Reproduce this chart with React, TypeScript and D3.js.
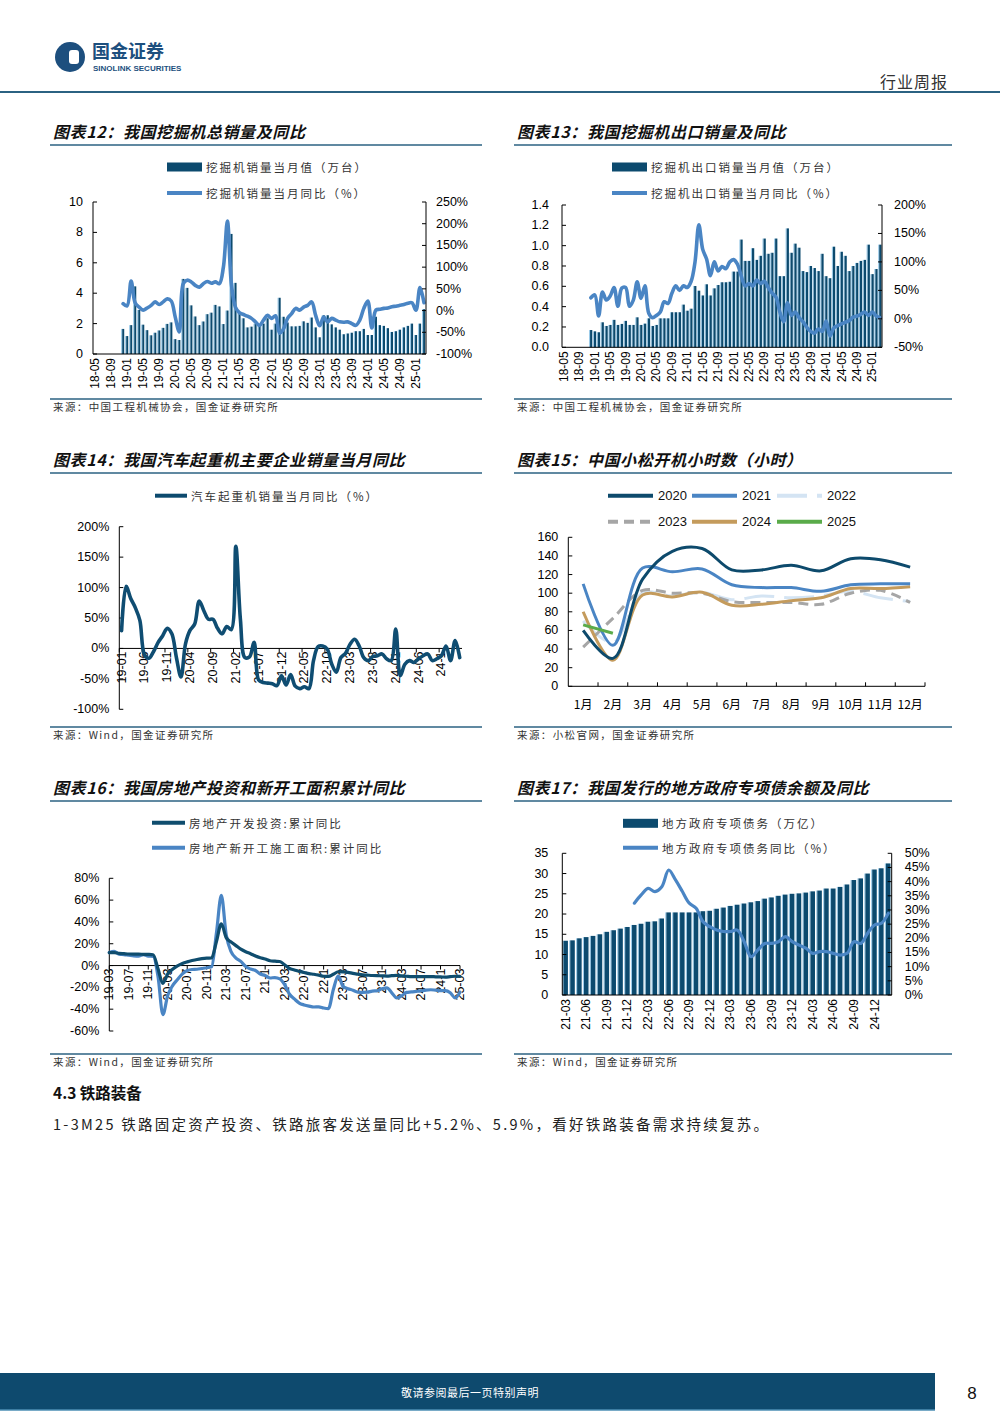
import * as d3 from "d3";
import React from "react";

const CJK = '"Noto Sans CJK SC", sans-serif';
const NUM = '"Liberation Sans", Arial, sans-serif';
const NAVY = "#0c4a6e";
const BLUE = "#4a85c4";
const LIGHTBAR = "#9ccbe9";
const RULE = "#2b6282";

// month labels like "18-05"
function monthSeq(yy: number, mm: number, n: number) {
  const out: string[] = [];
  for (let k = 0; k < n; k++) {
    const t = yy * 12 + (mm - 1) + k;
    const y = Math.floor(t / 12);
    const m = (t % 12) + 1;
    out.push(`${String(y).padStart(2, "0")}-${String(m).padStart(2, "0")}`);
  }
  return out;
}

// ---------- 图表12 挖掘机总销量 ----------
const cats12 = monthSeq(18, 5, 83);
const excavSales: (number | null)[] = [
  null, null, null, null, null, null, null,
  1.65, 1.18, 1.9, 4.45, 2.9, 1.93, 1.57, 1.23, 1.4, 1.55, 1.72, 1.98, 2.08,
  0.98, 0.92, 4.94, 4.35, 3.2, 2.47, 1.9, 2.14, 2.62, 2.72, 3.23, 3.13,
  1.97, 2.86, 7.9, 4.68, 2.75, 2.35, 1.75, 1.8, 2.0, 1.9, 2.0, 2.35,
  1.6, 2.0, 3.7, 2.45, 2.07, 1.82, 1.82, 1.85, 2.15, 2.05, 2.4, 1.75,
  1.1, 2.55, 2.55, 1.95, 1.75, 1.6, 1.3, 1.35, 1.4, 1.5, 1.5, 1.65,
  1.25, 1.25, 2.45, 1.9, 1.85, 1.7, 1.45, 1.5, 1.6, 1.75, 1.85, 2.0,
  1.25, 2.0, 2.95,
];
const excavYoY: (number | null)[] = [
  null, null, null, null, null, null, null,
  16, 11, 68, 18, 8, 1, 6, 12, 20, 14, 20, 27, 22,
  -15, -49, 62, 70, 66, 58, 54, 62, 67, 63, 66, 62,
  100, 206, 60, 8, -5, -9, -13, -18, -26, -34, -22, -11,
  -18, -12, -52, -42, -18, -7, 5, 1, 8, 12, 20, -11,
  -35, -15, -26, -18, -22, -26, -27, -26, -30, -34, -22, 5,
  22, -40, 1, 3, 5, 6, 9, 10, 12, 14, 17, 18,
  1, 53, 18,
];

// ---------- 图表13 挖掘机出口 ----------
const exportSales: (number | null)[] = [
  null, null, null, null, null, null, null,
  0.17, 0.157, 0.148, 0.246, 0.21, 0.22, 0.27, 0.22, 0.23, 0.26, 0.22, 0.22, 0.295,
  0.22, 0.233, 0.285, 0.21, 0.22, 0.285, 0.285, 0.285, 0.345, 0.345, 0.345, 0.42,
  0.36, 0.38, 0.603, 0.557, 0.51, 0.62, 0.51, 0.58, 0.613, 0.64, 0.64, 0.645,
  0.745, 0.745, 1.06, 0.85, 0.85, 0.975, 0.86, 0.9, 1.07, 0.92, 0.93, 1.07,
  0.7, 0.7, 1.17, 0.93, 1.02, 0.98, 0.75, 0.74, 0.8, 0.78, 0.75, 0.92,
  0.7, 0.68, 0.99, 0.8, 0.94, 0.9, 0.75, 0.8, 0.83, 0.85, 0.86, 1.01,
  0.72, 0.77, 1.01,
];
const exportYoY: (number | null)[] = [
  null, null, null, null, null, null, null,
  37, 42, 5, 47, 33, 40, 55, 22, 54, 55, 22, 33, 65,
  36, 58, 10, 2, 6, 12, 30, 27, 45, 58, 50, 58,
  55, 66, 100, 165, 122, 105, 76, 100, 84, 92, 88, 100,
  104, 96, 75, 58, 62, 58, 68, 62, 66, 55, 45, 38,
  12, -5, 28, 6, 12, 2, -5, -15, -22, -25, -18, -22,
  -4, -30, -16, -12, -9, -6, -3, 3, 5, 8, 12, 6,
  12, 5, 2,
];

// ---------- 图表14 汽车起重机 ----------
const cats14 = monthSeq(19, 1, 75);
const craneYoY = [
  29, 102, 82, 67, 46, -10, -16, -5, 10, 21, 33, 24,
  -15, -47, 8, 30, 40, 78, 62, 48, 48, 33, 24, 36,
  31, 168, 48, -15, -14, 10, -52, -56, -57, -58, -61, -45,
  -60, -43, -62, -66, -63, -66, -20, 3, 4, -1, -26, -39,
  -15, -8, 7, 15, 4, -15, -20, -13, -12, -9, -17, -20,
  32, -45, -26, -20, -23, -17, -12, -9, -20, -17, -12, 4,
  -20, 13, -15,
];
const craneTicks = ["19-01", "19-06", "19-11", "20-04", "20-09", "21-02", "21-07", "21-12",
  "22-05", "22-10", "23-03", "23-08", "24-01", "24-06", "24-1"];

// ---------- 图表15 小松开机小时数 ----------
const monthsCN = ["1月", "2月", "3月", "4月", "5月", "6月", "7月", "8月", "9月", "10月", "11月", "12月"];
const hrs2020 = [60, 30, 115, 145, 148, 125, 125, 130, 124, 137, 136, 128];
const hrs2021 = [110, 44, 127, 123, 126, 109, 106, 106, 102, 109, 110, 110];
const hrs2022 = [70, 47, 100, 97, 101, 93, 97, 95, 97, 102, 95, 91];
const hrs2023 = [42, 73, 103, 100, 100, 91, 90, 90, 88, 100, 103, 90];
const hrs2024 = [80, 28, 98, 96, 101, 87, 88, 92, 95, 105, 105, 107];
const hrs2025 = [66, 57];

// ---------- 图表16 房地产 ----------
const cats16 = monthSeq(19, 3, 73);
const reInvest = [
  11.8, 11.9, 11.2, 10.9, 10.6, 10.5, 10.5, 10.3, 10.2, 9.9,
  -3, -16.3, -7.7, -3.3, -0.3, 1.9, 3.4, 4.6, 5.6, 6.3, 6.8, 7.0,
  22, 38.3, 25.6, 21.6, 18.3, 15.0, 12.7, 10.9, 8.8, 7.2, 6.0, 4.4,
  4.0, 3.7, 0.7, -2.7, -4.0, -5.4, -6.4, -7.4, -8.0, -8.8, -9.8, -10.0,
  -8, -5.7, -5.8, -6.2, -7.2, -7.9, -8.5, -8.8, -9.1, -9.3, -9.4, -9.6,
  -9.3, -9.0, -9.5, -9.8, -10.1, -10.1, -10.2, -10.2, -10.1, -10.3, -10.4, -10.6,
  -10.2, -9.8, -9.9,
];
const reStarts = [
  11.9, 13.1, 10.5, 10.1, 9.5, 8.9, 8.6, 10.0, 8.6, 8.5,
  -10, -44.9, -27.2, -18.4, -12.8, -7.6, -4.5, -3.6, -3.4, -2.7, -2.0, -1.2,
  30, 64.3, 28.2, 12.8, 6.9, 3.8, -0.9, -3.2, -4.5, -7.7, -9.1, -11.4,
  -11, -12.2, -17.5, -26.3, -30.6, -34.4, -36.1, -37.2, -38.0, -37.8, -38.9, -39.4,
  -22, -9.4, -19.2, -21.2, -22.6, -24.3, -24.5, -24.4, -23.4, -23.2, -21.2, -20.4,
  -25, -29.7, -27.8, -24.6, -24.2, -23.7, -23.2, -22.5, -22.2, -22.6, -23.0, -23.0,
  -25, -29.6, -24.4,
];
const reTicks = ["19-03", "19-07", "19-11", "20-03", "20-07", "20-11", "21-03", "21-07", "21-1",
  "22-03", "22-07", "22-1", "23-03", "23-07", "23-1", "24-03", "24-07", "24-1", "25-03"];

// ---------- 图表17 专项债 ----------
const cats17 = monthSeq(21, 3, 48);
const bondBal = [
  13.4, 13.5, 14.0, 14.3, 14.6, 15.0, 15.6, 16.0, 16.4, 16.8,
  17.3, 17.6, 18.1, 18.2, 18.9, 20.4, 20.4, 20.4, 20.4, 20.4,
  20.7, 20.8, 21.3, 21.6, 22.0, 22.3, 22.6, 22.9, 23.2, 23.8,
  24.1, 24.5, 24.8, 25.0, 25.1, 25.3, 25.6, 25.8, 26.3, 26.3,
  26.7, 27.3, 28.4, 28.8, 30.0, 31.0, 31.3, 32.5,
];
const bondYoY: (number | null)[] = [
  null, null, null, null, null, null, null, null, null, null,
  32.4, 35.3, 37.6, 36.5, 38.2, 44.1, 40.6, 36.5, 32.4, 30.6,
  25.9, 24.1, 22.9, 22.4, 22.4, 22.9, 18.8, 13.5, 15.9, 18.2,
  18.2, 18.8, 20.6, 18.8, 17.6, 16.5, 14.7, 15.3, 15.3, 14.7,
  14.1, 14.7, 18.8, 18.2, 21.8, 24.7, 25.3, 28.8,
];

const tickRange = (a: number, b: number, s: number) => d3.range(a, b + s / 2, s);

function Frame({ x, w, titleY, title, srcY, src }: any) {
  return (
    <g>
      <text x={x + 3} y={titleY} fontFamily={CJK} fontSize={16} fontWeight="bold" fontStyle="italic" fill="#111" letterSpacing={0.6}>{title}</text>
      <line x1={x} x2={x + w} y1={titleY + 7} y2={titleY + 7} stroke={RULE} strokeWidth={1.6} />
      <line x1={x} x2={x + w} y1={srcY} y2={srcY} stroke={RULE} strokeWidth={1.6} />
      <text x={x + 3} y={srcY + 12} fontFamily={CJK} fontSize={10.5} fill="#333" letterSpacing={1.4}>{src}</text>
    </g>
  );
}

function LegendBar({ x, y, label }: any) {
  return (
    <g>
      <rect x={x} y={y - 4.5} width={35} height={9} fill={NAVY} />
      <text x={x + 39} y={y} dominantBaseline="central" fontFamily={CJK} fontSize={11.5} fill="#333" letterSpacing={2}>{label}</text>
    </g>
  );
}
function LegendLine({ x, y, label, color, len = 35, dash, width = 4 }: any) {
  return (
    <g>
      <line x1={x} x2={x + len} y1={y} y2={y} stroke={color} strokeWidth={width} strokeDasharray={dash} />
      <text x={x + len + 4} y={y} dominantBaseline="central" fontFamily={CJK} fontSize={11.5} fill="#333" letterSpacing={2}>{label}</text>
    </g>
  );
}

function Combo(p: any) {
  const x = d3.scaleBand<string>().domain(p.cats).range([p.L, p.R]).padding(0);
  const bw = x.bandwidth();
  const yl = d3.scaleLinear().domain(p.yL).range([p.B, p.T]);
  const yr = d3.scaleLinear().domain(p.yR).range([p.B, p.T]);
  const lt = tickRange(p.yL[0], p.yL[1], p.yLStep);
  const rt = tickRange(p.yR[0], p.yR[1], p.yRStep);
  const line = d3
    .line<number | null>()
    .defined((d) => d != null)
    .x((_, i) => (x(p.cats[i]) as number) + bw / 2)
    .y((d) => yr(d as number))
    .curve(d3.curveCatmullRom.alpha(0.5));
  return (
    <g>
      {p.bars.map((v: number | null, i: number) => {
        if (v == null) return null;
        const x0 = x(p.cats[i]) as number;
        return (
          <g key={i}>
            <rect x={x0} y={yl(v)} width={bw * p.lightW} height={yl(0) - yl(v)} fill={LIGHTBAR} />
            <rect x={x0 + bw * p.lightW} y={yl(v)} width={bw * p.darkW} height={yl(0) - yl(v)} fill={NAVY} />
          </g>
        );
      })}
      <path d={line(p.line) || ""} fill="none" stroke={BLUE} strokeWidth={p.lw} strokeLinejoin="round" strokeLinecap="round" />
      <line x1={p.L} x2={p.L} y1={p.T} y2={p.B} stroke="#000" />
      <line x1={p.R} x2={p.R} y1={p.T} y2={p.B} stroke="#000" />
      <line x1={p.L} x2={p.R} y1={p.B} y2={p.B} stroke="#000" />
      {lt.map((t) => (
        <g key={"l" + t}>
          <line x1={p.L} x2={p.L + 4} y1={yl(t)} y2={yl(t)} stroke="#000" />
          <text x={p.L - p.lPad} y={yl(t)} textAnchor="end" dominantBaseline="central" fontFamily={NUM} fontSize={12.5}>{p.yLFmt(t)}</text>
        </g>
      ))}
      {rt.map((t) => (
        <g key={"r" + t}>
          <line x1={p.R - 4} x2={p.R} y1={yr(t)} y2={yr(t)} stroke="#000" />
          <text x={p.R + p.rPad} y={yr(t)} textAnchor="start" dominantBaseline="central" fontFamily={NUM} fontSize={12.5}>{t + "%"}</text>
        </g>
      ))}
      {p.cats.map((c: string, i: number) =>
        i % p.every === 0 ? (
          <text key={c} transform={`translate(${(x(c) as number) + bw / 2},${p.B + 4}) rotate(-90)`} textAnchor="end" dominantBaseline="central" fontFamily={NUM} fontSize={12}>{c}</text>
        ) : null
      )}
    </g>
  );
}

function LinePanel(p: any) {
  const x = d3.scalePoint<string>().domain(p.cats).range([p.L, p.R]).padding(p.pad);
  const y = d3.scaleLinear().domain(p.dom).range([p.B, p.T]);
  const ticks = tickRange(p.dom[0], p.dom[1], p.step);
  const line = d3
    .line<number>()
    .x((_, i) => x(p.cats[i]) as number)
    .y((d) => y(d))
    .curve(p.curve);
  const half = p.pad > 0 ? x.step() / 2 : 0;
  return (
    <g>
      <line x1={p.L} x2={p.L} y1={p.T} y2={p.B} stroke="#000" />
      {ticks.map((t) => (
        <g key={t}>
          <line x1={p.L} x2={p.L + 4} y1={y(t)} y2={y(t)} stroke="#000" />
          <text x={p.L - 10} y={y(t)} textAnchor="end" dominantBaseline="central" fontFamily={NUM} fontSize={12.5}>{t + "%"}</text>
        </g>
      ))}
      <line x1={p.L} x2={p.R} y1={y(0)} y2={y(0)} stroke="#000" />
      {p.labels.map((lab: string, k: number) => {
        const c = p.cats[k * p.every];
        const cx = x(c) as number;
        return (
          <g key={lab + k}>
            <line x1={cx - half} x2={cx - half} y1={y(0)} y2={y(0) + 4} stroke="#000" />
            <text transform={`translate(${cx},${y(0) + 3}) rotate(-90)`} textAnchor="end" dominantBaseline="central" fontFamily={NUM} fontSize={12.5}>{lab}</text>
          </g>
        );
      })}
      {p.series.map((s: any) => (
        <path key={s.name} d={line(s.values) || ""} fill="none" stroke={s.color} strokeWidth={s.width} strokeLinejoin="round" strokeLinecap="round" />
      ))}
    </g>
  );
}

function Komatsu() {
  const L = 568.3, R = 925, T = 537.3, B = 686.3;
  const x = d3.scaleBand<string>().domain(monthsCN).range([L, R]).padding(0);
  const y = d3.scaleLinear().domain([0, 160]).range([B, T]);
  const line = d3
    .line<number>()
    .x((_, i) => (x(monthsCN[i]) as number) + x.bandwidth() / 2)
    .y((d) => y(d))
    .curve(d3.curveCatmullRom.alpha(0.5));
  const series = [
    { name: "2022", v: hrs2022, c: "#d4e4f3", dash: "30,10" },
    { name: "2023", v: hrs2023, c: "#a6a6a6", dash: "10,6" },
    { name: "2024", v: hrs2024, c: "#c49b5c" },
    { name: "2021", v: hrs2021, c: "#4a85c4" },
    { name: "2020", v: hrs2020, c: "#0d4a6c" },
    { name: "2025", v: hrs2025, c: "#5aab4a" },
  ];
  const legend = [
    { name: "2020", c: "#0d4a6c", x: 608, y: 495.7 },
    { name: "2021", c: "#4a85c4", x: 692, y: 495.7 },
    { name: "2022", c: "#d4e4f3", x: 777, y: 495.7, dash: "30,10" },
    { name: "2023", c: "#a6a6a6", x: 608, y: 521.7, dash: "10,6" },
    { name: "2024", c: "#c49b5c", x: 692, y: 521.7 },
    { name: "2025", c: "#5aab4a", x: 777, y: 521.7 },
  ];
  return (
    <g>
      {legend.map((l) => (
        <g key={l.name}>
          <line x1={l.x} x2={l.x + 45} y1={l.y} y2={l.y} stroke={l.c} strokeWidth={4} strokeDasharray={l.dash} />
          <text x={l.x + 50} y={l.y} dominantBaseline="central" fontFamily={NUM} fontSize={13} fill="#111">{l.name}</text>
        </g>
      ))}
      <line x1={L} x2={L} y1={T} y2={B} stroke="#000" />
      {tickRange(0, 160, 20).map((t) => (
        <g key={t}>
          <line x1={L} x2={L + 4} y1={y(t)} y2={y(t)} stroke="#000" />
          <text x={L - 10} y={y(t)} textAnchor="end" dominantBaseline="central" fontFamily={NUM} fontSize={12.5}>{t}</text>
        </g>
      ))}
      <line x1={L} x2={R} y1={B} y2={B} stroke="#000" />
      {monthsCN.map((m) => (
        <g key={m}>
          <line x1={(x(m) as number) + x.bandwidth()} x2={(x(m) as number) + x.bandwidth()} y1={B} y2={B - 4} stroke="#000" />
          <text x={(x(m) as number) + x.bandwidth() / 2} y={B + 17} textAnchor="middle" dominantBaseline="central" fontFamily={CJK} fontSize={12}>{m}</text>
        </g>
      ))}
      {series.map((s) => (
        <path key={s.name} d={line(s.v) || ""} fill="none" stroke={s.c} strokeWidth={3} strokeDasharray={s.dash} strokeLinecap="butt" />
      ))}
    </g>
  );
}

export default function App() {
  return (
    <svg width={1000} height={1414} style={{ position: "absolute", left: 0, top: 0, background: "#fff" }}>
      {/* header */}
      <circle cx={70} cy={57} r={15} fill="#1d4f7e" />
      <rect x={69} y={50} width={10} height={14} rx={3} fill="#fff" />
      <text x={92} y={58} fontFamily={CJK} fontSize={18} fontWeight="bold" fill="#1d4f7e">国金证券</text>
      <text x={93} y={71} fontFamily={NUM} fontSize={8} fontWeight="bold" fill="#1d4f7e">SINOLINK SECURITIES</text>
      <text x={948} y={88} textAnchor="end" fontFamily={CJK} fontSize={16} fill="#333" letterSpacing={1}>行业周报</text>
      <line x1={0} x2={1000} y1={92} y2={92} stroke={RULE} strokeWidth={2.2} />

      {/* row 1 */}
      <Frame x={50} w={432} titleY={138} title="图表12：我国挖掘机总销量及同比" srcY={399} src="来源：中国工程机械协会，国金证券研究所" />
      <LegendBar x={167} y={167} label="挖掘机销量当月值（万台）" />
      <LegendLine x={167} y={193} label="挖掘机销量当月同比（%）" color={BLUE} />
      <Combo cats={cats12} bars={excavSales} line={excavYoY} L={93} R={426} T={202} B={354}
        yL={[0, 10]} yLStep={2} yLFmt={(v: number) => String(v)} yR={[-100, 250]} yRStep={50}
        lPad={10} rPad={10} every={4} lightW={0.28} darkW={0.5} lw={3.6} />

      <Frame x={514} w={438} titleY={138} title="图表13：我国挖掘机出口销量及同比" srcY={399} src="来源：中国工程机械协会，国金证券研究所" />
      <LegendBar x={612} y={167} label="挖掘机出口销量当月值（万台）" />
      <LegendLine x={612} y={193} label="挖掘机出口销量当月同比（%）" color={BLUE} />
      <Combo cats={cats12} bars={exportSales} line={exportYoY} L={562} R={882} T={205} B={347.3}
        yL={[0, 1.4]} yLStep={0.2} yLFmt={(v: number) => v.toFixed(1)} yR={[-50, 200]} yRStep={50}
        lPad={13} rPad={12} every={4} lightW={0.28} darkW={0.58} lw={3.6} />

      {/* row 2 */}
      <Frame x={50} w={432} titleY={466} title="图表14：我国汽车起重机主要企业销量当月同比" srcY={727} src="来源：Wind，国金证券研究所" />
      <LegendLine x={155} y={495.7} label="汽车起重机销量当月同比（%）" color={NAVY} len={32} />
      <LinePanel cats={cats14} L={119.3} R={462} T={526.7} B={709.3} dom={[-100, 200]} step={50} pad={0.5}
        labels={craneTicks} every={5} curve={d3.curveCatmullRom.alpha(0.5)}
        series={[{ name: "crane", values: craneYoY, color: "#0f4d72", width: 3.6 }]} />

      <Frame x={514} w={438} titleY={466} title="图表15：中国小松开机小时数（小时）" srcY={727} src="来源：小松官网，国金证券研究所" />
      <Komatsu />

      {/* row 3 */}
      <Frame x={50} w={432} titleY={794} title="图表16：我国房地产投资和新开工面积累计同比" srcY={1054} src="来源：Wind，国金证券研究所" />
      <LegendLine x={152} y={822.7} label="房地产开发投资:累计同比" color="#0f4d6e" len={33} />
      <LegendLine x={152} y={847.7} label="房地产新开工施工面积:累计同比" color={BLUE} len={33} />
      <LinePanel cats={cats16} L={109.3} R={460} T={878.3} B={1031} dom={[-60, 80]} step={20} pad={0}
        labels={reTicks} every={4} curve={d3.curveMonotoneX}
        series={[
          { name: "starts", values: reStarts, color: BLUE, width: 3.2 },
          { name: "invest", values: reInvest, color: "#0f4d6e", width: 3.2 },
        ]} />

      <Frame x={514} w={438} titleY={794} title="图表17：我国发行的地方政府专项债余额及同比" srcY={1054} src="来源：Wind，国金证券研究所" />
      <LegendBar x={623} y={823.3} label="地方政府专项债务（万亿）" />
      <LegendLine x={623} y={847.7} label="地方政府专项债务同比（%）" color={BLUE} />
      <Combo cats={cats17} bars={bondBal} line={bondYoY} L={562.3} R={891.7} T={853.3} B={995}
        yL={[0, 35]} yLStep={5} yLFmt={(v: number) => String(v)} yR={[0, 50]} yRStep={5}
        lPad={14} rPad={13} every={3} lightW={0.16} darkW={0.66} lw={3.2} />

      {/* text */}
      <text x={53} y={1099} fontFamily={CJK} fontSize={15.5} fontWeight="bold" fill="#111">4.3 铁路装备</text>
      <text x={53} y={1130} fontFamily={CJK} fontSize={14.5} fill="#222" textLength={715} lengthAdjust="spacing">
        1-3M25 铁路固定资产投资、铁路旅客发送量同比+5.2%、5.9%，看好铁路装备需求持续复苏。
      </text>

      {/* footer */}
      <rect x={0} y={1373} width={935} height={37} fill="#0e4a6e" />
      <line x1={0} x2={935} y1={1410} y2={1410} stroke="#4d8fb5" strokeWidth={1.5} />
      <text x={470} y={1392} textAnchor="middle" dominantBaseline="central" fontFamily={CJK} fontSize={11} fill="#fff" letterSpacing={0.5}>敬请参阅最后一页特别声明</text>
      <text x={972} y={1393} textAnchor="middle" dominantBaseline="central" fontFamily={NUM} fontSize={17} fill="#111">8</text>
    </svg>
  );
}
